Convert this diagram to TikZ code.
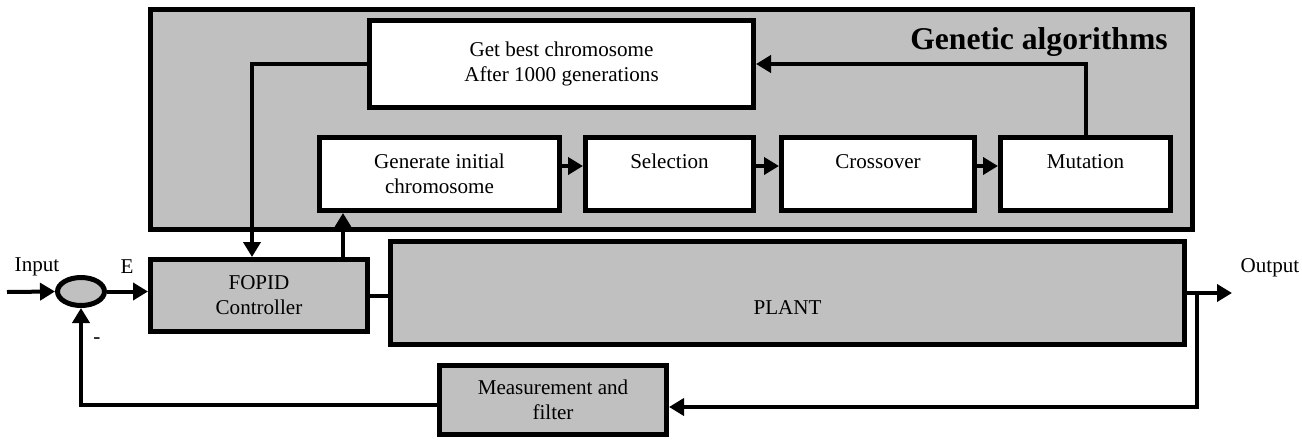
\documentclass[tikz,border=0pt]{standalone}
\usepackage{fontspec}
\setmainfont{Liberation Serif}
\usetikzlibrary{arrows.meta,shapes.geometric}
\definecolor{blockgray}{RGB}{192,192,192}

\begin{document}
\begin{tikzpicture}[
    block/.style = {draw, line width=0.1cm, fill=blockgray, align=center, inner sep=0pt},
    gabox/.style = {draw, line width=0.1cm, fill=white, align=center, inner sep=0pt},
    link/.style = {line width=0.08cm},
    arr/.style = {line width=0.08cm, -{Triangle[length=0.3cm,width=0.34cm]}},
    font = \fontsize{12}{14.2}\selectfont
  ]
    \useasboundingbox (0,0) rectangle (26.04,-8.8);

    % genetic algorithm part
    \node[block, minimum width=20.84cm, minimum height=4.40cm] (ga) at (13.43,-2.39) {};
    \node[font=\fontsize{18}{20}\selectfont\bfseries] (gatitle) at (20.78,-0.84) {Genetic algorithms};
    \node[gabox, minimum width=7.68cm, minimum height=1.74cm] (best) at (11.23,-1.28) {Get best chromosome\\After 1000 generations};
    \node[gabox, minimum width=4.80cm, minimum height=1.46cm] (gen) at (8.79,-3.48) {Generate initial\\chromosome};
    \node[gabox, minimum width=3.36cm, minimum height=1.46cm] (sel) at (13.39,-3.48) {Selection\\~};
    \node[gabox, minimum width=3.86cm, minimum height=1.46cm] (cross) at (17.56,-3.48) {Crossover\\~};
    \node[gabox, minimum width=3.40cm, minimum height=1.46cm] (mut) at (21.71,-3.48) {Mutation\\~};

    % control loop
    \node[block, minimum width=4.34cm, minimum height=1.44cm] (fopid) at (5.18,-5.91) {FOPID\\Controller};
    \node[block, minimum width=15.88cm, minimum height=2.06cm] (plant) at (15.75,-5.86) {\strut\\PLANT};
    \node[block, minimum width=4.54cm, minimum height=1.38cm] (meas) at (11.06,-8.00) {Measurement and\\filter};
    \node[draw, ellipse, line width=0.1cm, fill=blockgray, minimum width=0.94cm, minimum height=0.56cm, inner sep=0pt] (sum) at (1.62,-5.83) {};

    \node (input) at (0.74,-5.34) {Input};
    \node (err) at (2.54,-5.34) {E};
    \node (minus) at (1.94,-6.82) {-};
    \node (output) at (25.40,-5.36) {Output};

    \coordinate (in) at (0.14,-5.84);
    \coordinate (out) at (24.64,-5.84);
    \coordinate (tap) at (23.94,-5.84);

    \draw[arr] (in) -- (sum.west);
    \draw[arr] (sum.east) -- (sum.east -| fopid.west);
    \draw[link] (fopid.east) -- (fopid.east -| plant.west);
    \draw[arr] (plant.east) -- (plant.east -| out);
    \draw[arr] (plant.east -| tap) |- ([yshift=-0.14cm]meas.east);
    \draw[arr] ([yshift=-0.1cm]meas.west) -| (sum.south);

    \draw[arr] (best.west) -| ([xshift=-0.14cm]fopid.north);
    \draw[arr] ([xshift=-0.54cm]fopid.north east) -- ([xshift=-0.54cm]fopid.north east |- gen.south);
    \draw[arr] ([yshift=0.16cm]gen.east) -- ([yshift=0.16cm]sel.west);
    \draw[arr] ([yshift=0.16cm]sel.east) -- ([yshift=0.16cm]cross.west);
    \draw[arr] ([yshift=0.16cm]cross.east) -- ([yshift=0.16cm]mut.west);
    \draw[arr] (mut.north) |- (best.east);
\end{tikzpicture}
\end{document}
